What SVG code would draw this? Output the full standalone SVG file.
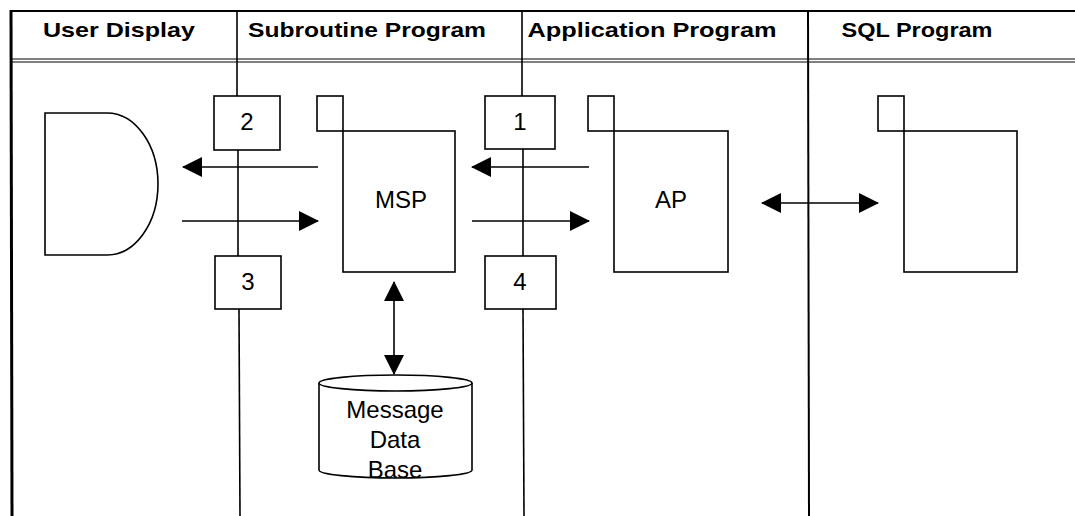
<svg xmlns="http://www.w3.org/2000/svg" width="1075" height="516" viewBox="0 0 1075 516">
<defs>
<marker id="ah" viewBox="0 0 20 20" refX="19" refY="10" markerWidth="20" markerHeight="20" markerUnits="userSpaceOnUse" orient="auto-start-reverse">
<path d="M0,0 L20,10 L0,20 Z" fill="#000"/>
</marker>
<style>
.ln{stroke:#000;stroke-width:1.6;fill:none}
.bx{stroke:#000;stroke-width:1.6;fill:#fff}
.hd{font-family:"Liberation Sans",Arial,sans-serif;font-weight:bold;font-size:21px;fill:#000;text-anchor:middle}
.tx{font-family:"Liberation Sans",Arial,sans-serif;font-size:24px;fill:#000;text-anchor:middle}
.ar{stroke:#000;stroke-width:1.6;fill:none;marker-end:url(#ah)}
.ar2{stroke:#000;stroke-width:1.6;fill:none;marker-end:url(#ah);marker-start:url(#ah)}
</style>
</defs>
<rect width="1075" height="516" fill="#fff"/>
<g id="frame">
<line x1="11" y1="11" x2="1075" y2="11" stroke="#000" stroke-width="2.2"/>
<line x1="11" y1="10" x2="12" y2="516" stroke="#000" stroke-width="3"/>
<line x1="11" y1="59" x2="1075" y2="59" stroke="#000" stroke-width="1"/>
<line x1="11" y1="62" x2="1075" y2="62" stroke="#000" stroke-width="1"/>
<line x1="237" y1="11" x2="237" y2="96" class="ln"/>
<line x1="522" y1="11" x2="522" y2="96" class="ln"/>
<line x1="808" y1="11" x2="809" y2="516" stroke="#000" stroke-width="2"/>
<text class="hd" x="119" y="37" textLength="152" lengthAdjust="spacingAndGlyphs">User Display</text>
<text class="hd" x="367" y="37" textLength="238" lengthAdjust="spacingAndGlyphs">Subroutine Program</text>
<text class="hd" x="652" y="37" textLength="249" lengthAdjust="spacingAndGlyphs">Application Program</text>
<text class="hd" x="917" y="37" textLength="151" lengthAdjust="spacingAndGlyphs">SQL Program</text>
</g>
<g id="connectors">
<line x1="238" y1="150" x2="238" y2="256" class="ln"/>
<line x1="239" y1="309" x2="240" y2="516" class="ln"/>
<line x1="523" y1="149" x2="523" y2="256" class="ln"/>
<line x1="523" y1="309" x2="524" y2="516" class="ln"/>
<line x1="318" y1="167" x2="183" y2="167" class="ar"/>
<line x1="182" y1="221" x2="318" y2="221" class="ar"/>
<line x1="589" y1="167" x2="472" y2="167" class="ar"/>
<line x1="472" y1="221" x2="589" y2="221" class="ar"/>
<line x1="762" y1="203" x2="878" y2="203" class="ar2"/>
<line x1="394" y1="282" x2="394" y2="374" class="ar2"/>
</g>
<g id="user-display">
<path d="M45,113 H107 A51,71 0 0 1 107,255 H45 Z" class="bx"/>
</g>
<g id="box2"><rect x="214" y="96" width="66" height="54" class="bx"/><text class="tx" x="247" y="130">2</text></g>
<g id="box3"><rect x="215" y="256" width="66" height="53" class="bx"/><text class="tx" x="248" y="290">3</text></g>
<g id="box1"><rect x="485" y="96" width="70" height="53" class="bx"/><text class="tx" x="520" y="130">1</text></g>
<g id="box4"><rect x="485" y="256" width="71" height="53" class="bx"/><text class="tx" x="520" y="290">4</text></g>
<g id="msp">
<rect x="317" y="96" width="26" height="35" class="bx"/>
<rect x="343" y="131" width="112" height="141" class="bx"/>
<text class="tx" x="401" y="208">MSP</text>
</g>
<g id="ap">
<rect x="588" y="96" width="26" height="35" class="bx"/>
<rect x="614" y="131" width="114" height="141" class="bx"/>
<text class="tx" x="671" y="208">AP</text>
</g>
<g id="sql">
<rect x="878" y="96" width="26" height="35" class="bx"/>
<rect x="904" y="131" width="113" height="141" class="bx"/>
</g>
<g id="message-db">
<path d="M319,383 V470 A76.5,8 0 0 0 472,470 V383" class="bx"/>
<ellipse cx="395.5" cy="383" rx="76.5" ry="8" class="bx"/>
<text class="tx" x="395" y="418">Message</text>
<text class="tx" x="395" y="448">Data</text>
<text class="tx" x="395" y="478">Base</text>
</g>
</svg>
